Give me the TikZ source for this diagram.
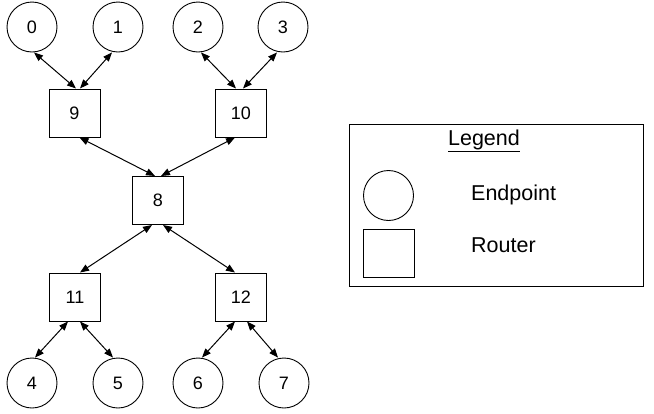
\documentclass[tikz,border=0pt]{standalone}
\usepackage{fontspec}
\setmainfont{Liberation Sans}
\usetikzlibrary{arrows.meta}
\begin{document}
\begin{tikzpicture}[x=1pt,y=-1pt,
  endpt/.style={draw,circle,minimum size=50pt,inner sep=0pt,line width=0.9pt,font=\fontsize{18}{20}\selectfont},
  router/.style={draw,rectangle,minimum width=51pt,minimum height=48pt,inner sep=0pt,line width=1pt,font=\fontsize{18}{20}\selectfont},
  link/.style={line width=1pt,{Triangle[length=9pt,width=7pt]}-{Triangle[length=9pt,width=7pt]}},
  legtext/.style={anchor=west,inner sep=0pt,font=\fontsize{21.5}{24}\selectfont}]
\useasboundingbox (0,0) rectangle (654,413);
% endpoints
\node[endpt] (c0) at (32,27) {0};
\node[endpt] (c1) at (118,27) {1};
\node[endpt] (c2) at (198,27) {2};
\node[endpt] (c3) at (283,27) {3};
\node[endpt] (c4) at (32,383) {4};
\node[endpt] (c5) at (118,383) {5};
\node[endpt] (c6) at (198,383) {6};
\node[endpt] (c7) at (284,383) {7};
% routers
\node[router] (b9) at (74.5,113) {9};
\node[router] (b10) at (241,113) {10};
\node[router] (b8) at (158,200.5) {8};
\node[router] (b11) at (75,297) {11};
\node[router] (b12) at (241,297) {12};
% links
\draw[link] ([xshift=2]c0.south) -- ([xshift=1.5]b9.north);
\draw[link] ([xshift=-6]c1.south) -- ([xshift=5.5]b9.north);
\draw[link] ([xshift=3]c2.south) -- ([xshift=-5]b10.north);
\draw[link] ([xshift=-6]c3.south) -- ([xshift=2]b10.north);
\draw[link] ([xshift=5]b9.south) -- ([xshift=-3]b8.north);
\draw[link] ([xshift=-6]b10.south) -- ([xshift=3]b8.north);
\draw[link] ([xshift=-6]b8.south) -- ([xshift=5]b11.north);
\draw[link] ([xshift=5]b8.south) -- ([xshift=-6]b12.north);
\draw[link] ([xshift=-7]b11.south) -- ([xshift=3]c4.north);
\draw[link] ([xshift=5]b11.south) -- ([xshift=-5]c5.north);
\draw[link] ([xshift=-6]b12.south) -- ([xshift=4]c6.north);
\draw[link] ([xshift=6]b12.south) -- ([xshift=-6]c7.north);
% legend
\node[draw,line width=1pt,minimum width=294pt,minimum height=162pt,inner sep=0pt] (leg) at (496,205) {};
\node[inner sep=0pt,font=\fontsize{21.5}{24}\selectfont] (legtitle) at (484,141) {\underline{Legend}};
\node[endpt] (legc) at (388.5,195.5) {};
\node[router,minimum width=51pt,minimum height=48pt] (legr) at (388.5,253) {};
\node[legtext] (legct) at (471,195) {Endpoint};
\node[legtext] (legrt) at (471,245) {Router};
\end{tikzpicture}
\end{document}
